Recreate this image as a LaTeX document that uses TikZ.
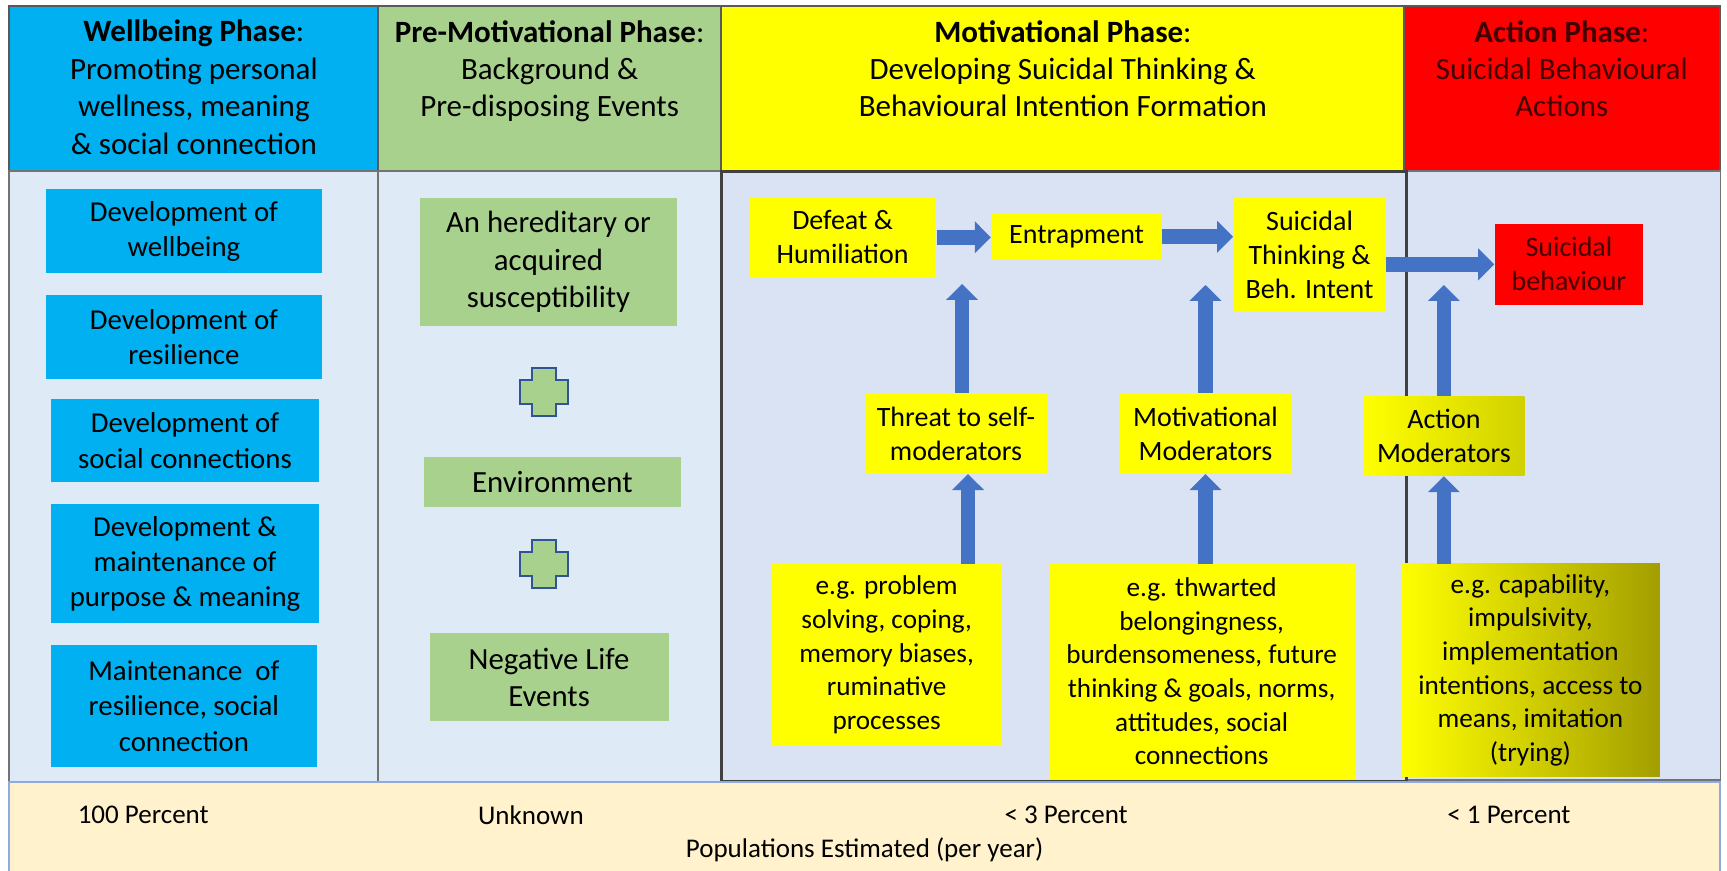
\documentclass[tikz,border=0pt]{standalone}
\usepackage{fontspec}
\setmainfont{Carlito}
\usetikzlibrary{arrows.meta,fit}

\definecolor{wbblue}{HTML}{00B0F0}
\definecolor{pmgreen}{HTML}{A9D18E}
\definecolor{mvyellow}{HTML}{FFFF00}
\definecolor{acred}{HTML}{FF0000}
\definecolor{lightbg}{HTML}{DEEBF7}
\definecolor{mvbg}{HTML}{DAE3F3}
\definecolor{footbg}{HTML}{FFF2CC}
\definecolor{footline}{HTML}{8FAADC}
\definecolor{arrowblue}{HTML}{4472C4}
\definecolor{plusedge}{HTML}{2F5597}
\definecolor{cellline}{HTML}{595959}
\definecolor{olivedark}{HTML}{A39E00}
\definecolor{redtext}{HTML}{420000}

\tikzset{
  boxsize/.style 2 args={minimum width=#1*0.5507pt, minimum height=#2*0.5507pt},
  box/.style={inner sep=0pt, align=center, font=\fontsize{14.4}{17.6}\selectfont},
  wbbox/.style={box, fill=wbblue},
  pmbox/.style={box, fill=pmgreen, font=\fontsize{15.4}{18.8}\selectfont},
  mvbox/.style={box, fill=mvyellow, font=\fontsize{14}{17}\selectfont},
  egbox/.style={box, fill=mvyellow, font=\fontsize{13.6}{16.8}\selectfont},
  headcell/.style={inner sep=0pt, draw=cellline, line width=1pt},
  bodycell/.style={inner sep=0pt, draw=black!55, line width=0.8pt},
  headtext/.style={anchor=north, align=center, inner sep=0pt,
    font=\fontsize{15.5}{18.7}\selectfont},
  foottext/.style={inner sep=0pt, font=\fontsize{13.5}{16}\selectfont},
  fatarrow/.style={draw=arrowblue, line width=7.4pt,
    -{Triangle[length=8pt,width=15.5pt]}},
  plus/.style={fill=pmgreen, draw=plusedge, line width=1pt},
}

\begin{document}
\begin{tikzpicture}[x=0.5507pt, y=-0.5507pt]
\useasboundingbox (0,0) rectangle (1568,790);

% Header row of the four phases
\node (wbhead) [headcell, fill=wbblue, fit={(8,5) (343,155)}] {};
\node (pmhead) [headcell, fill=pmgreen, fit={(343,5) (655,155)}] {};
\node (mvhead) [headcell, fill=mvyellow, fit={(655,5) (1275,155)}] {};
\node (achead) [headcell, fill=acred, fit={(1275,5) (1562,155)}] {};

\node (wbtitle) [headtext] at (176,18) {\textbf{Wellbeing Phase}:\\Promoting personal\\wellness, meaning\\\& social connection};
\node (pmtitle) [headtext] at (499,18) {\textbf{Pre-Motivational Phase}:\\Background \&\\Pre-disposing Events};
\node (mvtitle) [headtext] at (965,18) {\textbf{Motivational Phase}:\\Developing Suicidal Thinking \&\\Behavioural Intention Formation};
\node (actitle) [headtext, text=redtext] at (1418,18) {\textbf{Action Phase}:\\Suicidal Behavioural\\Actions};

% Body cells
\node (wbbody) [bodycell, fill=lightbg, fit={(8,155) (343,710)}] {};
\node (pmbody) [bodycell, fill=lightbg, fit={(343,155) (655,710)}] {};
\node (acbody) [bodycell, fill=mvbg, fit={(1277,155) (1562,708)}] {};
\node (mvbody) [bodycell, fill=mvbg, draw=black!75, line width=1.6pt, fit={(655,156) (1277,710)}] {};

% Footer with population estimates
\fill[footbg] (8,710) rectangle (1562,792);
\draw[footline, line width=1pt] (8,792) -- (8,710) -- (1562,710) -- (1562,792);
\node (pop100) [foottext] at (130,740) {100 Percent};
\node (popunk) [foottext] at (482,740) {Unknown};
\node (pop3) [foottext] at (968,740) {< 3 Percent};
\node (pop1) [foottext] at (1370,740) {< 1 Percent};
\node (popnote) [foottext] at (785,772) {Populations Estimated (per year)};

% Wellbeing boxes
\node (wb1) [wbbox, boxsize={250}{76}] at (167,210) {Development of\\wellbeing};
\node (wb2) [wbbox, boxsize={250}{76}] at (167,306) {Development of\\resilience};
\node (wb3) [wbbox, boxsize={244}{76}] at (168,400) {Development of\\social connections};
\node (wb4) [wbbox, boxsize={244}{108}] at (168,512) {Development \&\\maintenance of\\purpose \& meaning};
\node (wb5) [wbbox, boxsize={242}{110}] at (167,641) {Maintenance~ of\\resilience, social\\connection};

% Pre-motivational boxes and plus signs
\node (pm1) [pmbox, boxsize={234}{116}] at (498,238) {An hereditary or\\acquired\\susceptibility};
\node (pm2) [pmbox, boxsize={233}{45}] at (501.5,437.5) {Environment};
\node (pm3) [pmbox, boxsize={217}{80}] at (498.5,615) {Negative Life\\Events};

\coordinate (plusA) at (494,356);
\draw[plus] (plusA) ++(-10.75,-21.5) -- ++(21.5,0) -- ++(0,10.75) -- ++(10.75,0) -- ++(0,21.5)
  -- ++(-10.75,0) -- ++(0,10.75) -- ++(-21.5,0) -- ++(0,-10.75) -- ++(-10.75,0) -- ++(0,-21.5)
  -- ++(10.75,0) -- cycle;
\coordinate (plusB) at (494,512);
\draw[plus] (plusB) ++(-10.75,-21.5) -- ++(21.5,0) -- ++(0,10.75) -- ++(10.75,0) -- ++(0,21.5)
  -- ++(-10.75,0) -- ++(0,10.75) -- ++(-21.5,0) -- ++(0,-10.75) -- ++(-10.75,0) -- ++(0,-21.5)
  -- ++(10.75,0) -- cycle;

% Motivational chain
\node (defeat) [mvbox, boxsize={170}{73}] at (765,215.5) {Defeat \&\\Humiliation};
\node (entrap) [mvbox, boxsize={155}{42}] at (977.5,215) {Entrapment};
\node (suithink) [mvbox, boxsize={138}{104}] at (1189,231) {Suicidal\\Thinking \&\\Beh. Intent};
\node (suibeh) [box, fill=acred, text=redtext, font=\fontsize{14}{17}\selectfont, boxsize={135}{74}] at (1424.5,240) {Suicidal\\behaviour};

% Moderators
\node (threat) [mvbox, boxsize={166}{73}] at (868,393.5) {Threat to self-\\moderators};
\node (motmod) [mvbox, boxsize={155}{73}] at (1094.5,393.5) {Motivational\\Moderators};
\node (actmod) [mvbox, left color=mvyellow, right color=mvyellow!82!black, boxsize={146}{72}] at (1311,396) {Action\\Moderators};

% Examples of moderators
\node (eg1) [egbox, boxsize={210}{165}] at (805,594.5) {e.g. problem\\solving, coping,\\memory biases,\\ruminative\\processes};
\node (eg2) [egbox, boxsize={278}{195}] at (1091,609.5) {e.g. thwarted\\belongingness,\\burdensomeness, future\\thinking \& goals, norms,\\attitudes, social\\connections};
\node (eg3) [egbox, left color=mvyellow, middle color=mvyellow!85!olivedark, right color=olivedark, boxsize={235}{193}] at (1389.5,608.5) {e.g. capability,\\impulsivity,\\implementation\\intentions, access to\\means, imitation\\(trying)};

% Arrows along the chain
\draw[fatarrow] (defeat.east) -- (defeat.east -| entrap.west);
\draw[fatarrow] (entrap.east) -- (entrap.east -| suithink.west);
\draw[fatarrow] (suibeh.west -| suithink.east) -- (suibeh.west);

% Arrows from the moderators
\draw[fatarrow, shorten >=3pt] ([xshift=3pt]threat.north) -- ([xshift=3pt]threat.north |- defeat.south);
\draw[fatarrow, shorten >=3.5pt] (motmod.north) -- (motmod.north |- defeat.south);
\draw[fatarrow, shorten >=3.5pt] (actmod.north) -- (actmod.north |- defeat.south);
\draw[fatarrow] ([xshift=6pt]threat.south |- eg1.north) -- ([xshift=6pt]threat.south);
\draw[fatarrow] (motmod.south |- eg2.north) -- (motmod.south);
\draw[fatarrow] (actmod.south |- eg3.north) -- (actmod.south);
\end{tikzpicture}
\end{document}
